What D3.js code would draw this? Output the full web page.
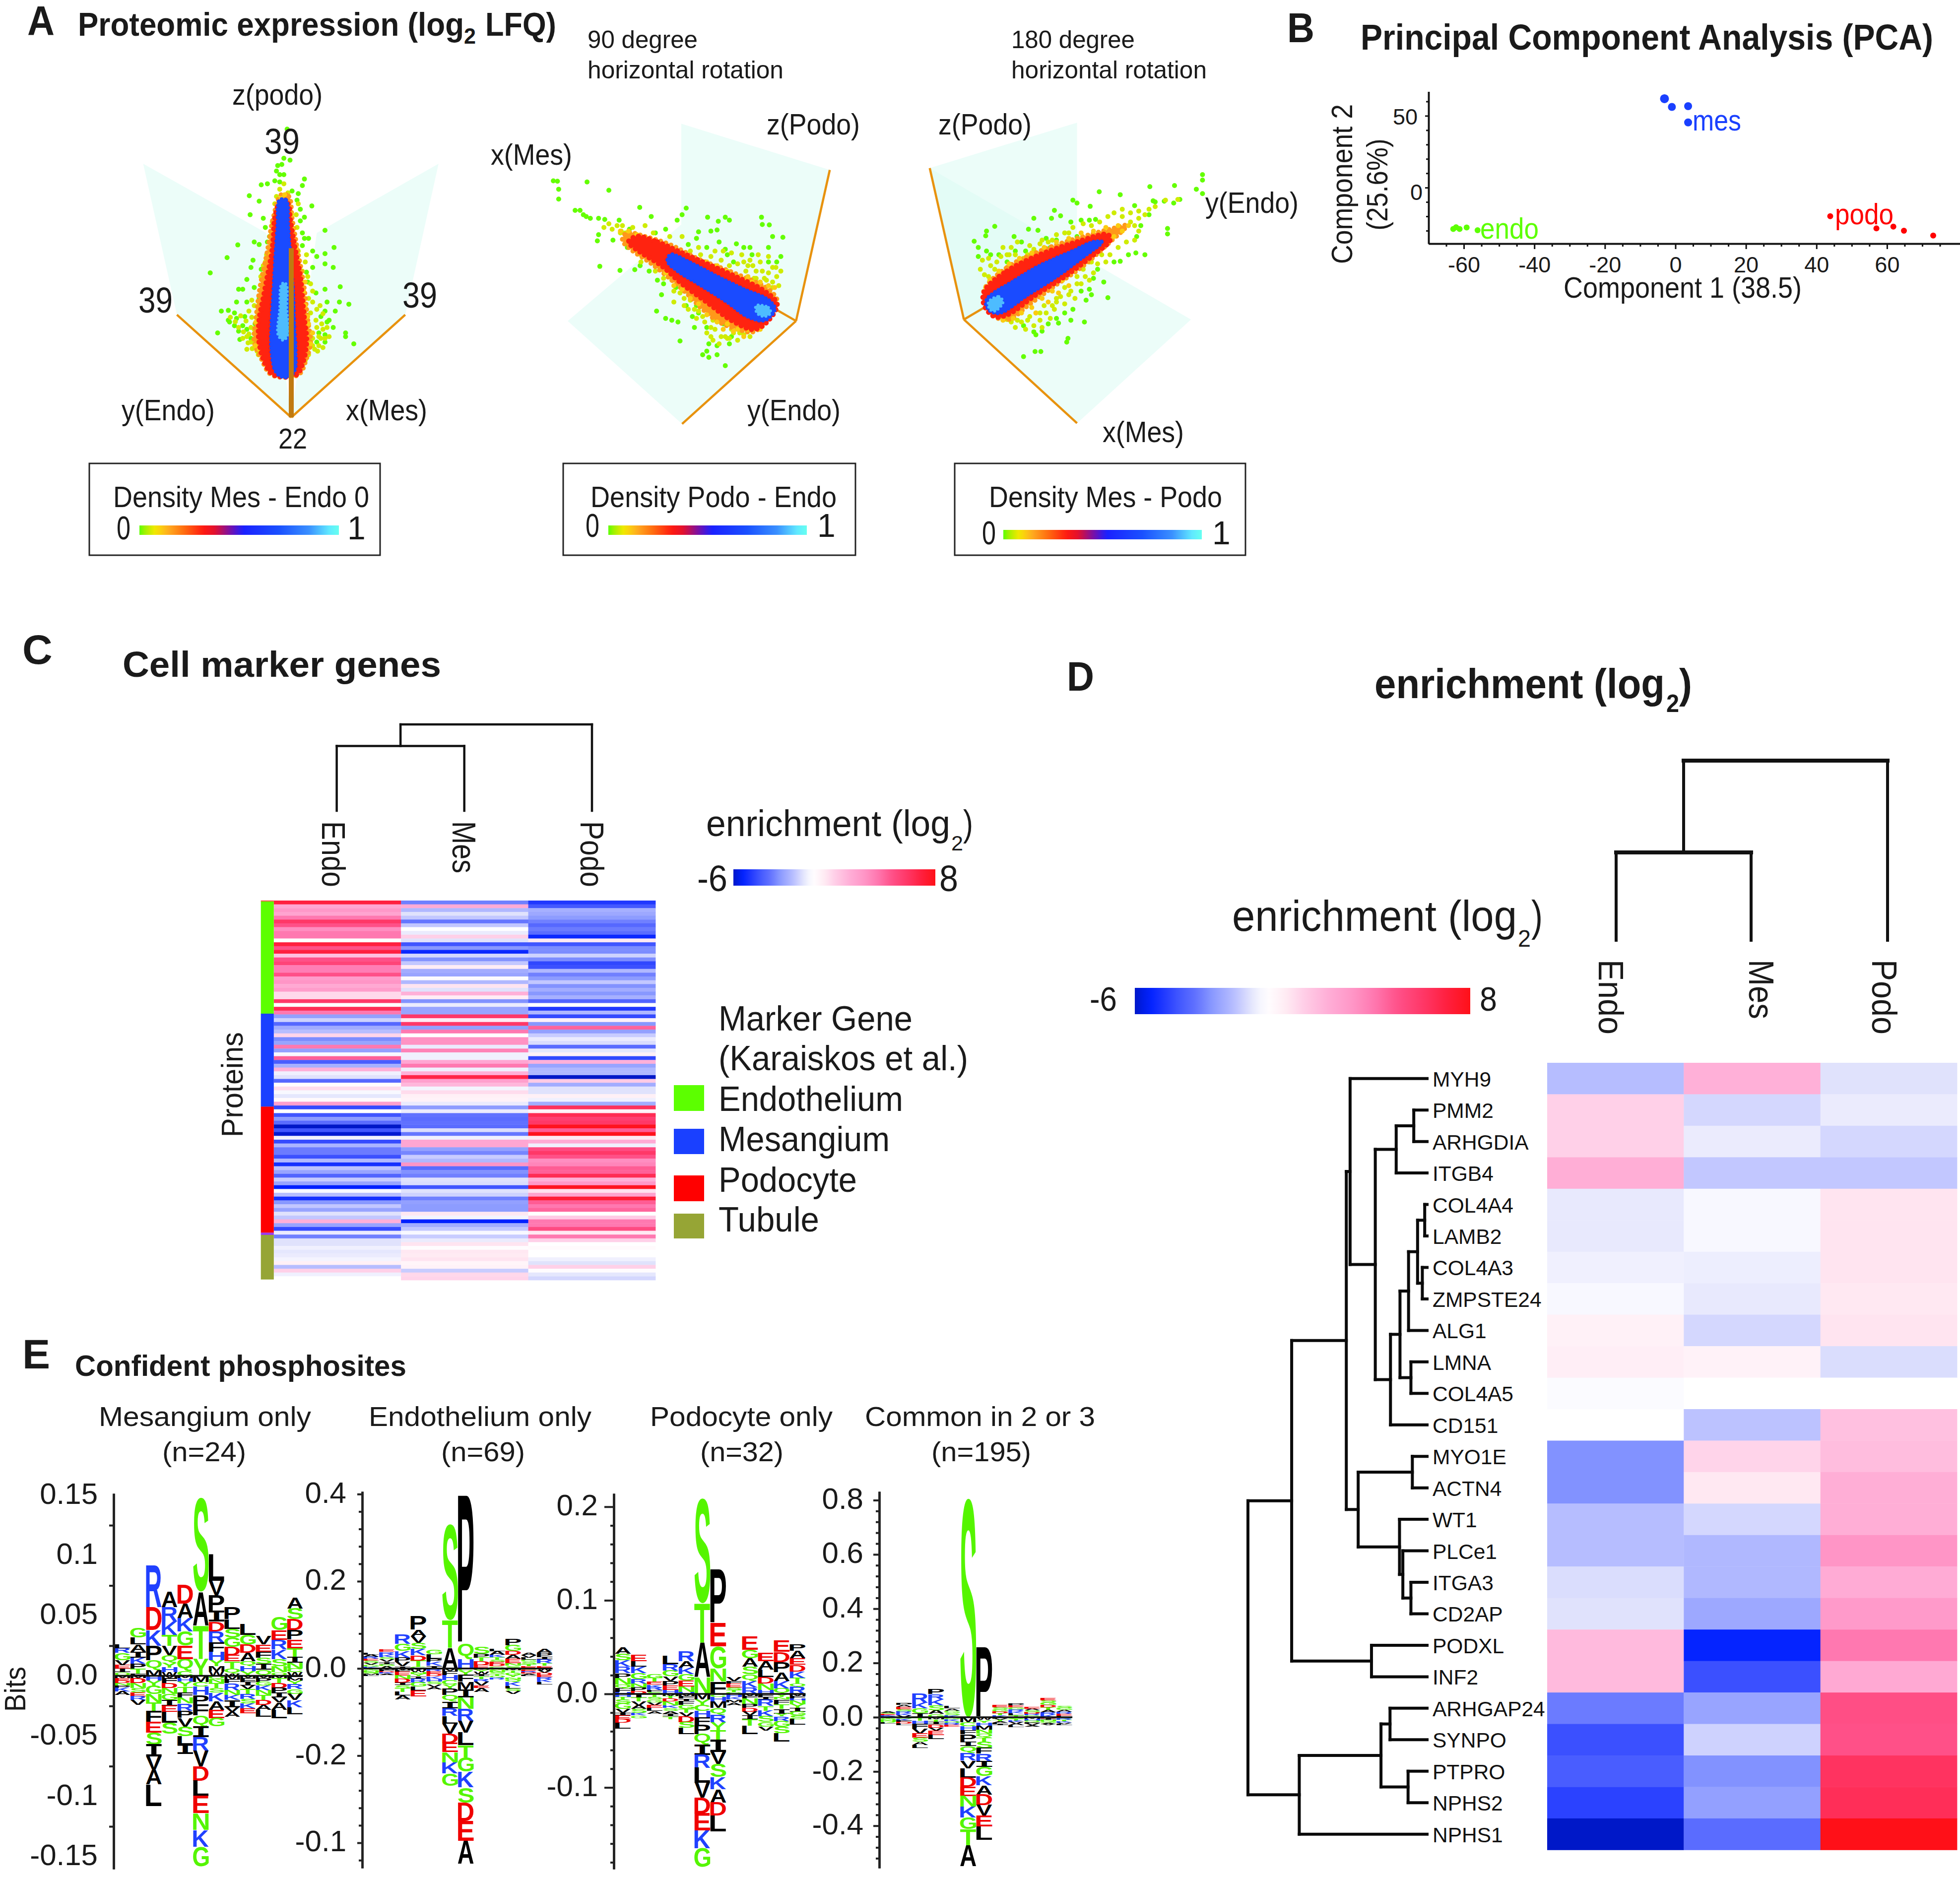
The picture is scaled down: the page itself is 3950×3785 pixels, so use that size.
<!DOCTYPE html>
<html><head><meta charset="utf-8">
<script src="https://cdnjs.cloudflare.com/ajax/libs/d3/7.8.5/d3.min.js"></script>
<style>html,body{margin:0;padding:0;background:#fff}svg{display:block}text{font-family:"Liberation Sans",Arial,sans-serif}</style>
</head><body><svg id="c" width="3950" height="3785" xmlns="http://www.w3.org/2000/svg"></svg>
<script>
// ---------- data ----------
const densityStops=[0,.03,.08,.14,.22,.32,.38,.46,.52,.7,.85,.95,1];
const densityColors=["#5cff00","#a8f000","#f6e800","#ffb020","#ff7010","#ff1a10","#e01030","#7010b0","#1a20ff","#1a50ff","#3a90ff","#60e8ff","#66fff0"];
const enrichStops=[-6,-5.4,-4.8,-4.2,-3.6,-3.2,-2.8,-2.5,-2,-1.6,-1.2,-.9,-.5,.4,1,2,3,4,5,6,7,8];
const enrichColors=["#0018c8","#0020ff","#2038ff","#4055ff","#5a6cff","#7080ff","#8898ff","#98a4ff","#b0b8ff","#c8ccff","#e0e2fc","#f0f0fe","#ffffff","#ffe8f2","#ffd0e8","#ffb0d8","#ff98c8","#ff78b0","#ff5088","#ff3868","#ff2040","#ff1018"];

// PCA (component 1, component 2)
const pcaMes=[[-3.1,61.9,8],[-1,56.2,7],[3.6,56.7,7],[3.6,45.4,7]];
const pcaPodo=[[43.9,-19.9,5],[57,-28.4,5],[61.8,-27.2,5],[64.8,-30,5],[73.1,-33.4,5]];
const pcaEndo=[[-63,-28.8,5],[-62.2,-27.6,5],[-61.2,-28.8,5],[-59.2,-27.8,5],[-56.1,-29.7,5]];
const pcaXMajor=[-60,-40,-20,0,20,40,60];
const pcaXMinor=[-65,-55,-50,-45,-35,-30,-25,-15,-10,-5,5,10,15,25,30,35,45,50,55,65,70,75];
const pcaYMinor=[60,40,30,20,10,-10,-20,-30];

// projected 3D clouds (projected screen units of each view)
const v1Low=[[698,355],[690,435],[705,440],[675,455],[685,452],[672,470],[680,480],[668,497],[680,500],[690,480],[740,492],[735,510],[725,532],[710,525],[650,505],[635,508],[606,538],[630,553],[700,550],[722,550],[758,566],[730,575],[608,590],[640,600],[645,625],[740,597],[730,607],[790,633],[735,640],[655,650],[650,665],[618,665],[630,672],[578,673],[740,655],[750,655],[735,675],[812,680],[760,690],[790,697],[770,705],[552,708],[615,715],[610,735],[635,740],[790,725],[810,735],[760,735],[745,748],[511,750],[600,768],[748,775],[580,795],[590,795],[618,790],[790,795],[768,805],[827,788],[575,830],[600,830],[630,820],[640,810],[795,830],[825,830],[848,836],[538,855],[555,853],[570,860],[790,855],[815,855],[555,880],[575,875],[595,870],[780,870],[800,880],[558,885],[570,895],[590,895],[620,890],[810,900],[795,885],[529,915],[580,910],[600,905],[775,915],[790,920],[840,915],[840,925],[583,933],[610,930],[770,940],[790,940],[860,945]];
const v1Mid=[[690,505],[680,520],[700,530],[620,920],[610,900],[775,950],[760,930],[770,900],[610,940],[625,950],[765,960],[755,860],[750,820],[625,870],[605,855],[760,800],[640,770],[735,745],[645,720],[725,690],[650,740],[785,905],[780,930],[600,925],[560,872],[572,884],[585,868],[598,882],[612,872],[580,900],[592,912],[605,918],[618,905],[590,930],[603,942],[617,938],[628,930],[600,960],[613,958],[625,965],[632,945],[618,840],[628,850],[612,825],[630,835],[640,790],[634,760],[640,730],[648,700],[655,680],[660,640],[662,610],[745,700],[742,720],[748,760],[755,780],[760,830],[770,850],[778,840],[785,862],[768,880],[782,890],[795,900],[775,925],[790,930],[800,925],[760,950],[772,965],[785,955],[750,975],[742,990],[640,985],[628,975],[650,1000],[735,1005],[725,560],[720,590],[722,625],[668,560],[672,540]];
const v1Warm=[[620,950],[630,960],[640,975],[650,990],[630,900],[622,885],[632,868],[640,850],[745,960],[755,945],[760,915],[750,890],[748,870],[742,840],[738,800],[742,775],[648,780],[645,810],[655,740],[658,700],[725,720],[720,680],[712,630],[665,640],[668,600],[708,590],[692,535],[684,545],[745,925],[635,925],[655,1010],[725,1015]];
const v2Low=[[-223,497],[-213,498],[-210,520],[-210,547],[-141,500],[-88,523],[-13,570],[-170,578],[-158,578],[-150,590],[-143,595],[-133,600],[-113,600],[-98,603],[-63,605],[-38,630],[-113,645],[-116,662],[-78,660],[-43,680],[-13,650],[-110,732],[-61,743],[-25,741],[-12,730],[100,572],[90,590],[78,605],[152,597],[195,597],[205,605],[178,608],[283,597],[285,617],[302,618],[310,650],[335,652],[15,595],[50,630],[25,640],[130,637],[160,635],[175,632],[125,655],[105,672],[195,685],[240,680],[255,680],[300,680],[222,670],[330,705],[320,720],[300,720],[260,700],[215,720],[200,700],[180,665],[150,680],[25,730],[10,745],[30,770],[45,780],[40,810],[75,790],[100,800],[28,855],[50,875],[65,880],[80,885],[115,870],[130,860],[120,900],[85,937],[175,950],[155,945],[205,945],[150,965],[140,975],[155,982],[175,975],[195,1005],[100,840],[150,900],[210,925],[125,840],[190,890]];
const v2Mid=[[250,730],[270,745],[300,750],[320,760],[285,790],[310,790],[170,860],[180,880],[210,905],[230,915],[160,900],[140,870],[120,850],[95,840],[70,830],[255,715],[235,700],[170,690],[130,680],[90,650],[60,650],[25,700],[-10,720],[200,930],[185,925],[160,925],[-88,615],[-68,620],[-58,635],[-48,640],[280,720],[310,735],[295,770],[265,765],[110,690],[135,700],[160,705],[185,715],[205,730],[225,725],[245,745],[262,730],[285,745],[300,705],[318,735],[330,745],[310,775],[325,785],[290,765],[270,765],[240,720],[190,690],[210,695],[275,700],[40,725],[25,745],[50,750],[65,770],[45,765],[70,800],[95,820],[85,805],[110,825],[105,850],[130,855],[145,885],[125,875],[165,880],[150,915],[170,905],[195,925],[180,945],[215,915],[165,935],[205,930],[225,935],[240,920],[255,925],[-30,680],[-10,700],[-60,640],[-80,630],[-100,625],[-55,620],[-30,625],[0,620],[10,670],[20,640]];
const v2Warm=[[240,770],[260,775],[280,775],[300,785],[315,790],[225,760],[250,760],[200,745],[175,730],[150,720],[130,835],[150,865],[175,885],[200,890],[225,905],[250,905],[110,820],[90,795],[70,785],[50,750],[30,720],[-15,690],[-35,665],[-60,635],[-40,635],[-20,645],[280,905],[240,925],[215,910],[190,905]];
const v3Low=[[1355,480],[1355,495],[1340,520],[1355,532],[1287,510],[1227,513],[1155,535],[1104,527],[1040,550],[1050,558],[1082,567],[1190,565],[1300,548],[1262,553],[1285,558],[1235,552],[1270,628],[1270,643],[995,578],[945,600],[988,600],[1010,593],[1035,610],[1060,605],[1080,605],[1095,603],[850,622],[830,635],[828,648],[800,663],[897,650],[932,630],[955,633],[975,655],[1000,660],[915,665],[900,690],[810,680],[830,690],[840,700],[810,705],[860,700],[880,720],[925,690],[985,680],[1015,670],[1050,650],[1215,700],[1175,700],[1193,695],[1155,718],[1140,720],[1100,740],[1090,765],[1115,775],[1080,795],[1085,810],[1125,818],[1060,800],[1072,825],[1040,850],[1020,860],[1000,875],[1005,888],[1068,885],[1035,880],[1028,930],[1025,940],[920,980],[948,966],[962,966],[965,910],[945,912],[950,920],[920,895],[980,890],[1195,650],[1205,620],[1225,590],[1240,555]];
const v3Mid=[[1180,610],[1190,620],[1160,595],[1200,600],[1215,590],[1145,640],[1110,700],[1080,720],[1050,760],[1020,790],[1000,820],[970,840],[950,860],[930,880],[905,880],[895,870],[1060,780],[1030,810],[990,840],[960,880],[880,700],[850,740],[835,760],[900,700],[930,700],[960,670],[990,660],[1030,640],[815,740],[825,755],[840,730],[855,720],[820,715],[835,710],[865,705],[885,700],[870,680],[890,680],[905,665],[920,710],[935,675],[945,685],[965,660],[980,665],[1000,645],[1020,640],[1040,625],[1065,615],[1085,620],[1105,610],[1125,595],[1140,585],[1160,575],[1180,585],[1200,580],[1225,575],[1240,568],[1265,550],[1295,548],[1200,635],[1190,660],[1170,665],[1150,680],[1130,700],[1120,720],[1100,725],[1090,750],[1070,760],[1050,780],[1080,770],[1035,800],[1010,815],[1045,820],[1020,835],[995,850],[1000,830],[975,860],[985,875],[960,860],[935,870],[915,885],[900,900],[925,905],[945,895],[965,900],[890,885],[880,878],[1065,740],[1085,720]];
const v3Warm=[[1090,690],[1065,720],[1040,745],[1015,770],[990,800],[965,820],[940,845],[915,860],[895,875],[870,880],[1120,660],[1140,650],[1160,635],[1175,620],[1150,620],[1120,625],[1090,635],[1060,640],[1030,655],[1000,665],[970,680],[940,695],[910,710],[885,725],[860,745],[838,770],[828,790],[1030,785],[1005,805],[980,830],[950,860]];
// density contours of each cloud
const v1Orange=[[684,535],[702,540],[710,600],[722,680],[738,780],[748,880],[755,940],[745,985],[725,1030],[660,1030],[635,985],[618,940],[622,880],[632,790],[650,690],[664,600]];
const v1Red=[[682,555],[700,560],[705,600],[712,650],[720,700],[730,760],[735,820],[740,880],[745,940],[735,1000],[720,1030],[665,1030],[645,1000],[630,940],[630,880],[640,820],[650,760],[660,700],[665,650],[668,600]];
const v1Blue=[[680,550],[695,550],[700,620],[705,700],[712,800],[715,900],[718,960],[715,1020],[700,1035],[685,1035],[670,1020],[660,960],[660,900],[665,800],[670,700],[675,620]];
const v1Core=[[685,780],[695,780],[697,850],[700,920],[688,935],[676,920],[680,850]];
const v2Orange=[[-45,640],[0,650],[60,672],[130,712],[220,752],[300,795],[322,830],[300,880],[262,912],[225,905],[180,885],[140,850],[100,805],[60,765],[10,720],[-35,685],[-55,660]];
const v2Red=[[-20,650],[30,665],[80,690],[150,725],[220,760],[290,800],[320,835],[300,880],[265,905],[210,880],[150,830],[90,780],[40,730],[-15,690],[-40,665]];
const v2Blue=[[62,700],[110,722],[170,757],[240,795],[300,825],[315,850],[290,880],[250,870],[200,830],[130,780],[80,745],[55,718]];
const v2Core=[[270,840],[300,845],[305,860],[290,870],[272,860]];
const v3Orange=[[825,795],[880,735],[960,690],[1050,655],[1130,630],[1170,620],[1130,665],[1060,735],[990,790],[930,840],[885,878],[850,870],[825,830]];
const v3Red=[[825,800],[880,745],[960,700],[1050,665],[1125,645],[1130,660],[1090,700],[1020,760],[950,810],[880,865],[850,870],[825,840]];
const v3Blue=[[830,825],[900,770],[960,730],[1040,690],[1090,665],[1110,665],[1060,710],[1000,760],[930,810],[860,860],[835,850]];
const v3Core=[[835,830],[860,815],[870,830],[850,855],[838,850]];
// pale coordinate planes and axes of each view, same units
const v1Planes=[[[348,450],[647,640],[708,1147],[430,865]],[[1066,450],[770,640],[708,1147],[985,865]]];
const v2Planes=[[[88,340],[449,467],[367,882],[88,617]],[[-188,882],[88,617],[367,882],[90,1165]]];
const v3Planes=[[[692,462],[1050,337],[1050,735],[775,878]],[[692,462],[1327,878],[1050,1163],[775,878]]];
const v2Axes=[[[367,882],[449,467]],[[367,882],[90,1165]],[[367,882],[310,845]]];
const v3Axes=[[[775,878],[692,462]],[[775,878],[1050,1163]],[[775,878],[835,838]]];
const v1Axes=[[[708,1147],[430,865]],[[708,1147],[985,865]]];
const v1ZAxis=[[708,1147],[708,682]];

// Cell marker heat map
const cellCols=["Endo","Mes","Podo"];
const markerEndo=[7,2.4,3,2.5,4,6,5,3.3,4,4,-.5,7,5,7,1.5,5,5.5,3.8,3.8,5,2.8,3.1,2.3,2.8,.8,.8,6,-.5,6.5,4,-2.6,-1.5,-3.7,-2.3,-1.9,.9,-3,-2.5,4,-2.6,-.7,4.6,-4,-2.2,2,-.9,-1.2,-3.7,-.4,.7,-.7,-1.1,-.3,2.7,-4.4,-.5,-4.2,-2.7,-3.6,-6,-4.2,-5.9,-.9,-4.4,-2.1,-3.3,-3.3,-4.3,-2,-5,-1.8,-2.5,-3.8,-1.6,-2.5,-5.4,-.7,-1.9,-5,-2.8,-1.7,-2.5,-1.2,-1.7,2,-2.5,-4.4,-1,-3.2,-1.2,-1.2,-.9,-1.1,-1,-.8,.1,-1.9,1,-.9,-.5];
const markerMes=[-3.2,2.2,-2,-1.2,-1.7,-3.4,-1.7,-.5,-1,1,-1.2,-4.2,-2.8,-5.2,-1.4,-2.9,-1.7,.2,-2.3,-2.5,-.6,-2,.5,-1.2,2,.2,-2.9,-1,-2.5,-2.5,6,.3,6,-2.6,4,-.5,3.2,3.2,-1,3.7,-.9,-.9,2.4,4,-.9,2,6.8,2.7,1.8,-.8,.7,.1,0,-1,-2.7,-1,-3.5,-3.6,-3.5,-3.6,-1.3,-3.4,-.9,2.4,2.4,-2.6,-3.1,-1.6,-2,3.1,-3.6,-2.9,-3.2,-1.2,-1.3,-4.2,-1.2,-1.5,-3.2,-2.6,-2.7,-2.7,.4,-.8,-5.4,-2.3,-1.7,-.7,-1.6,-1,.5,-.4,.4,.3,.5,-.1,0,-1.6,.8,.9];
const markerPodo=[-4.8,-4.1,-2.2,-2.4,-2.7,-3.2,-3.7,-3.3,-3.6,-5.2,.4,-4.2,-3,-3,-1.5,-3,-4.5,-4.3,-2,-3.2,-2.7,-1.7,-2.9,-2.3,-2.8,-2.2,-3.8,-.5,-4.8,-2,-4.4,0,-2.8,4.5,-2.6,-1.6,-1,-1.3,-3.6,-1.1,.1,-4.5,2,-2.5,-2,-2,-6,1.2,-2.3,-1.2,-1.2,.1,-.9,-2.3,6.3,0,6.5,5.7,6,7.8,4.7,7.9,.4,2.2,-.9,5.2,6,5,3.3,3.6,4.7,4.6,6.5,2,3,7.8,.6,2.6,7.2,4.7,4,4.5,-.5,1.2,4,4,5.2,.4,4,1,-.5,-.3,-.5,-.5,-.9,-1.2,1,-.4,-1.1,-1.4];
const markerNames=["Endothelium","Mesangium","Podocyte","Tubule"];
const markerFill=["#5cff00","#1a40ff","#ff0000","#96a535"];
const markerCounts=[29.6,24.5,33.2,.6,11.7]; // rows per side-bar block
const sliverFill="#9a3af0";

// Podocyte gene heat map
const genes=["MYH9","PMM2","ARHGDIA","ITGB4","COL4A4","LAMB2","COL4A3","ZMPSTE24","ALG1","LMNA","COL4A5","CD151","MYO1E","ACTN4","WT1","PLCe1","ITGA3","CD2AP","PODXL","INF2","ARHGAP24","SYNPO","PTPRO","NPHS2","NPHS1"];
const geneEndo=[-1.9,1,1,2.1,-1.05,-1.05,-.9,-.7,.05,.15,-.6,-.5,-2.9,-2.9,-1.9,-1.9,-1.3,-1.2,1.7,1.7,-3.3,-4.3,-4,-4.6,-6];
const geneMes=[2,-1.4,-1,-1.7,-.7,-.7,-.95,-1.05,-1.4,0,-.5,-1.8,.9,.4,-1.4,-2,-2,-2.4,-5.3,-4.3,-2.5,-1.5,-2.9,-2.6,-3.6];
const genePodo=[-1.2,-1,-1.4,-1.7,.5,.5,.5,.4,.5,-1.3,-.5,1.5,1.6,2.1,2.1,3.1,2.2,2.9,4,2.3,5.1,5,6.2,6.4,8];
// gene tree: [linkage distance, child, child]
const geneTree=[377,
 [285,
  [170,
   [162,"MYH9",
    [109,
     [65,[28,"PMM2","ARHGDIA"],"ITGB4"],
     [77,
      [57,
       [39,
        [20,[5,"COL4A4","LAMB2"],[10,"COL4A3","ZMPSTE24"]],
        "ALG1"],
       [34,"LMNA","COL4A5"]],
      "CD151"]]],
   [145,[31,"MYO1E","ACTN4"],[58,"WT1",[51,"PLCe1",[34,"ITGA3","CD2AP"]]]]],
  [117,"PODXL","INF2"]],
 [269,[97,[78,"ARHGAP24","SYNPO"],[40,"PTPRO","NPHS2"]],"NPHS1"]];

// sequence logos: letter stacks read top to bottom, heights in 0.001 bits
const logo1Up=["L3 R4 G6 V4 E3 I3 Q3","G8 L6 A6 I5 K5 P4 T4 F2","R35 D19 K13 P12 Q8 M5","A13 R12 K11 T9 V8 Q6 Y4 H4 W3","D16 A12 K11 G12 E11 Q10 C4","S78 A28 T28 Y14","L22 V12 P13 I9 D8 R9 F8 H7 Y5 M4 W4","P10 L8 S7 G8 D7 E5 T6 Q4 W2","L9 G8 D7 A7 Q4 H4 Y4","V7 E6 F5 S5 I5 Q5","G11 E8 R8 K8 S6 N5 Q3","A9 S9 D9 P8 E7 T7 I5 N5 C3 W3"];
const logo1Down=["M2 E2 D2 N2 P2 K3 A3","M2 D4 N4 S4 E3 R3 V4","H4 Y4 G7 N7 T7 F9 E9 S10 I10 V11 A12 L18","M2 F4 D4 N5 G5 I5 E5 L9 S9","M2 H3 Y4 T5 F4 N5 R6 P6 V7 S8 L7 I8","M5 C4 H7 P8 F9 Q9 I9 R11 V13 D12 L13 E14 N14 K14 G16","Q3 N3 T4 S4 K7 A7 E7 G7","M3 F3 R6 N4 K4 I6 V4 A4","M2 F3 I3 V3 T4 R4 S4 K4 E4","M2 P3 G3 K4 N4 T4 D4 A4 L6","M2 T4 D4 P4 I4 V4 A6 L7","F2 M2 Y3 R4 G4 V5 K6 L6"];
const logo2Up=["L4 A5 R5 E4 S5 V4 G5 K4","E6 R6 K6 S5 V6 I5 G5 A5","R21 G17 K15 P10 V10 I5","P31 A15 V15 S14 K15 D12 T14 C4","G10 L10 P7 K9 I6","S220 T64 A47","P340 Q35 H22","S17 P9 T8 D9 E8","L6 A8 K6 T6 S5 E5 D5 G5","P15 G13 D9 A9 E10 N6 S6","A5 V5 L5 G5 S5 T5 E5","A9 P9 I6 R9 T6 E6"];
const logo2Down=["T3 G3 N3 S3 M3 L3","M3 F3 D3 K3 A3","M4 F4 E8 N8 D8 I6 S8 T8 L8 A9","M4 W4 N5 Y5 I5 R9 G10 L9 E13","R6 E6 D6 K6 H6 S6 V6 A6","M6 F9 H12 C10 Y9 P15 Q15 I15 R18 L18 V23 D21 E21 N24 K25 G28","C5 Y9 F16 M18 I18 N27 R27 V27 L29 T28 G33 K36 S35 D42 E45 A53","M3 Y5 W5 I5 T6 R6 V9 E6 A9","G4 N4 S4 T5 Q4 R4","M4 T5 G6 Y5 N5 Q6 K9 L6 S6 V7","G3 E3 R3 D3 A3 L3","W5 V5 D5 E5 R5 K6 L6"];
const logo3Up=["A7 S7 K7 R7 P5 N7 Q4 F4 H2","E7 L6 K7 G6 R5 N4 P4 D3","G4 T4 E3 K3 R3 F2 S2","L9 R7 G6 V5 P5 E5 H4","R11 A7 K7 G7 E6 N6 H2","S112 T42 A37 N18","P57 E25 G24 N14 F13","V4 F3 E4 S3 T2 G2","E14 G9 A9 S8 Q7 K7 R7","E9 A9 L8 D7 N7 H4","E12 D11 P11 A9 K8 Q6","P7 A8 E7 D7 K7 T6 Q3 R8"];
const logo3Down=["H3 T3 S4 G6 V4 I3 E4 D4 L6","I4 T4 V4 A4 S4 K3 G3","T3 S3 G3 V3 E3 L3 A3","M2 T3 D3 N4 K3 S3 A3 I3 T3","M2 F3 I3 F4 G4 T4 V4 D6 S6 L7","M6 Y6 C6 H7 F8 P10 Q11 I11 R14 L16 V16 D17 E18 K19 G20","C3 H5 M7 Q7 R8 Y9 T10 I13 V13 S14 K13 A14 D14 L17","H3 K3 M3 A3","M2 F3 N6 P4 D4 V4 I4 T7 L9","F3 I3 R7 T5 K6 S6 G5 V4","Y3 N3 F5 T5 I5 Y3 R5 G6 S7 L9","M2 F3 H2 N4 Y4 I4 G4 S4 L6"];
const logo4Up=["A4 S4 E4 K4 R4","P8 A8 E8 S8 R8 K7 V7","R36 K20 G19 I14","P19 R19 K22 S19 A13 G12","L8 A8 G8 S8 K8","S807","P260","E8 S8 G7 D7 T7 K8","P7 E7 G7 R7 K7 L7 T8","E6 A6 S6 D6 R6 G7","E10 S9 G9 D9 T9 A9 R9 K9","S7 G7 A7 R7 E7 L6"];
const logo4Down=["T5 G5 N5 Q5 L4","S6 K6 F6 D6 L6","T12 H12 F18 V18 E15 S15 A12 L12","M8 T8 I10 D12 V12 E15 L15","G7 K7 Q7 R7 E7","M18 C15 H15 F15 P27 I17 Q24 R29 V29 L34 D34 E34 N39 K39 G44 T58 A78","W10 Y10 H12 M14 N14 Q15 T15 S24 F20 R29 I20 G34 K34 A34 D39 V39 E39 L50","F5 V5 T5 A5 L5 I5","C6 T6 K6 V6 A6 L6","M6 H6 Q6 F5 V6 A5","D5 I5 N5 G5 A5 V5","Q5 R5 T5 K5 V5 L5"];
const logo1Major=[.15,.1,.05,0,-.05,-.1,-.15], logo1Labels=["0.15","0.1","0.05","0.0","-0.05","-0.1","-0.15"], logo1Minor=[.125,.075,.025,-.025,-.075,-.125];
const logo2Major=[.4,.2,0,-.2,-.4], logo2Labels=["0.4","0.2","0.0","-0.2","-0.1"], logo2Minor=[.36,.32,.28,.24,.16,.12,.08,.04,-.04,-.08,-.12,-.16,-.24,-.28,-.32,-.36,-.44];
const logo3Major=[.2,.1,0,-.1], logo3Labels=["0.2","0.1","0.0","-0.1"], logo3Minor=[.18,.16,.14,.12,.08,.06,.04,.02,-.02,-.04,-.06,-.08,-.12,-.14,-.16,-.18];
const logo4Major=[.8,.6,.4,.2,0,-.2,-.4], logo4Labels=["0.8","0.6","0.4","0.2","0.0","-0.2","-0.4"], logo4Minor=[.76,.72,.68,.64,.56,.52,.48,.44,.36,.32,.28,.24,.16,.12,.08,.04,-.04,-.08,-.12,-.16,-.24,-.28,-.32,-.36,-.44,-.48,-.52];

// ---------- drawing ----------
const svg=d3.select("#c"), defs=svg.append("defs");
const INK="#1a1a1a";
function T(x,y,s,size,w,o={}){
  const t=svg.append("text").attr("x",x).attr("y",y).text(s).attr("font-size",size).attr("fill",o.fill||INK);
  if(o.bold)t.attr("font-weight","bold");
  if(o.anchor)t.attr("text-anchor",o.anchor);
  if(w)t.attr("textLength",w).attr("lengthAdjust","spacingAndGlyphs");
  if(o.rot)t.attr("transform",`rotate(${o.rot},${x},${y})`);
  return t;
}
const densityColor=d3.scaleLinear().domain(densityStops).range(densityColors);
const enrich=d3.scaleLinear().domain(enrichStops).range(enrichColors).clamp(true);
function gradBar(id,col,domain,x0,x1,y0,y1){
  const g=defs.append("linearGradient").attr("id",id);
  d3.range(0,41).forEach(i=>{const f=i/40;g.append("stop").attr("offset",f).attr("stop-color",col(domain[0]+f*(domain[1]-domain[0])));});
  svg.append("rect").attr("x",x0).attr("y",y0).attr("width",x1-x0).attr("height",y1-y0).attr("fill",`url(#${id})`);
}

// ----- panel A -----
T(55,71,"A",84,55,{bold:1});
T(157,72,"Proteomic expression (log",66,778,{bold:1});
T(935,88,"2",44,24,{bold:1});
T(978,72,"LFQ)",66,143,{bold:1});
T(1184,97,"90 degree",50,222);T(1184,158,"horizontal rotation",50,395);
T(2038,97,"180 degree",50,249);T(2038,158,"horizontal rotation",50,394);

const blobLine=d3.line().curve(d3.curveCatmullRomClosed.alpha(.5));
function drawView(off,planes,axes,low,mid,warm,orange,red,blue,core){
  const sx=d3.scaleLinear().domain([0,1568]).range([off,off+1300]);
  const sy=d3.scaleLinear().domain([0,1568]).range([0,1150]);
  const g=svg.append("g");
  const P=p=>[sx(p[0]),sy(p[1])];
  planes.forEach(pl=>g.append("path").attr("d","M"+pl.map(P).join("L")+"Z").attr("fill","#dcfbf4").attr("fill-opacity",.55));
  axes.forEach(a=>g.append("path").attr("d","M"+a.map(P).join("L")).attr("stroke","#e8920e").attr("stroke-width",4.5).attr("fill","none"));
  const dots=(pts,d)=>g.append("g").selectAll("circle").data(pts).join("circle").attr("cx",p=>sx(p[0])).attr("cy",p=>sy(p[1])).attr("r",5).attr("fill",densityColor(d));
  dots(low,.003);
  dots(mid,.055);
  const blob=(poly,d,r,dash,ed)=>g.append("path").attr("d",blobLine(poly.map(P))).attr("fill",densityColor(d)).attr("stroke",densityColor(ed===undefined?d:ed)).attr("stroke-width",r).attr("stroke-linecap","round").attr("stroke-dasharray",dash);
  blob(orange,.17,10,"0 11");
  dots(warm,.11);
  blob(red,.31,11,"0 11");
  blob(blue,.68,9,"0 16",.44);
  blob(blue,.68,8,"0 8");
  blob(core,.9,6,"0 8");
  return {g,P};
}
const view1=drawView(0,v1Planes,v1Axes,v1Low,v1Mid,v1Warm,v1Orange,v1Red,v1Blue,v1Core);
view1.g.append("path").attr("d","M"+v1ZAxis.map(view1.P).join("L")).attr("stroke","#c07a10").attr("stroke-width",10).attr("fill","none");
drawView(1300,v2Planes,v2Axes,v2Low,v2Mid,v2Warm,v2Orange,v2Red,v2Blue,v2Core);
drawView(1300,v3Planes,v3Axes,v3Low,v3Mid,v3Warm,v3Orange,v3Red,v3Blue,v3Core);

T(468,211,"z(podo)",60,182);
T(533,310,"39",72,71);T(279,630,"39",72,69);T(811,620,"39",72,70);
T(245,847,"y(Endo)",60,188);T(697,847,"x(Mes)",60,164);T(561,904,"22",58,58);
T(989,332,"x(Mes)",60,164);T(1545,271,"z(Podo)",60,188);T(1506,847,"y(Endo)",60,188);
T(1891,271,"z(Podo)",60,188);T(2429,429,"y(Endo)",60,188);T(2222,891,"x(Mes)",60,164);

function densityBox(bx0,bx1,title,tx,tw,tbase,z,zb,one,oneb,barx0,barx1,bary0,id){
  svg.append("rect").attr("x",bx0).attr("y",934).attr("width",bx1-bx0).attr("height",185).attr("fill","none").attr("stroke","#222").attr("stroke-width",3);
  T(tx,tbase,title,60,tw);
  T(z,zb,"0",66,28);T(one,oneb,"1",66,null);
  gradBar(id,densityColor,[0,1],barx0,barx1,bary0,bary0+19);
}
densityBox(180,766,"Density Mes - Endo 0",228,516,1022,235,1087,700,1087,281,683,1059,"db1");
densityBox(1135,1724,"Density Podo - Endo",1190,496,1022,1180,1082,1647,1082,1226,1626,1059,"db2");
densityBox(1924,2510,"Density Mes - Podo",1993,470,1022,1979,1097,2443,1097,2022,2422,1068,"db3");

// ----- panel B -----
T(2594,85,"B",84,55,{bold:1});
T(2742,100,"Principal Component Analysis (PCA)",72,1154,{bold:1});
const pcaX=d3.scaleLinear().domain([-70,80.7]).range([2879,3950]);
const pcaY=d3.scaleLinear().domain([-39,66.9]).range([491,184.5]);
const styleAxis=g=>{g.selectAll("path.domain").attr("stroke","#111").attr("stroke-width",3.5);g.selectAll("line").attr("stroke","#111").attr("stroke-width",3);g.selectAll("text").attr("font-family",'"Liberation Sans"').attr("fill",INK);};
svg.append("g").attr("transform","translate(0,491)").call(d3.axisBottom(pcaX).tickValues(pcaXMinor).tickSize(6).tickFormat("").tickSizeOuter(0)).call(styleAxis);
svg.append("g").attr("transform","translate(0,491)").call(d3.axisBottom(pcaX).tickValues(pcaXMajor).tickSize(11).tickPadding(15).tickSizeOuter(0).tickFormat(d=>String(d))).call(styleAxis).selectAll("text").attr("font-size",45);
const pcaYAxis=svg.append("g").attr("transform","translate(2879,0)").call(d3.axisLeft(pcaY).tickValues([50,0]).tickSize(7).tickPadding(15).tickSizeOuter(0).tickFormat(d=>String(d))).call(styleAxis);
pcaYAxis.selectAll("text").attr("font-size",45).attr("dy",d=>d===50?".38em":".55em").attr("x",d=>d===50?-22:-12);
svg.append("g").attr("transform","translate(2879,0)").call(d3.axisLeft(pcaY).tickValues(pcaYMinor).tickSize(5).tickFormat("").tickSizeOuter(0)).call(styleAxis);
[[pcaMes,"#1a40ff"],[pcaPodo,"#ff0000"],[pcaEndo,"#5cff00"]].forEach(([d,c])=>svg.append("g").selectAll("circle").data(d).join("circle").attr("cx",p=>pcaX(p[0])).attr("cy",p=>pcaY(p[1])).attr("r",p=>p[2]+1).attr("fill",c));
T(3411,263,"mes",60,98,{fill:"#1a40ff"});
T(3698,452,"podo",60,118,{fill:"#ff0000"});
T(2983,481,"endo",60,118,{fill:"#5cff00"});
T(3151,600,"Component 1 (38.5)",60,480);
T(2725,371,"Component 2",60,322,{rot:-90,anchor:"middle"});
T(2796,372,"(25.6%)",60,185,{rot:-90,anchor:"middle"});

// ----- shared dendrogram -----
function treeLayout(node,pos){
  if(typeof node==="string")return {h:0,p:pos(node),kids:[]};
  const kids=node.slice(1).map(n=>treeLayout(n,pos));
  return {h:node[0],p:d3.mean(kids,k=>k.p),kids};
}
function treePaths(n,out=[]){
  if(!n.kids.length)return out;
  n.kids.forEach(k=>{out.push([k.h,k.p,n.h,k.p]);treePaths(k,out);});
  out.push([n.h,n.kids[0].p,n.h,n.kids[n.kids.length-1].p]);
  return out;
}

// ----- panel C -----
T(45,1338,"C",84,null,{bold:1});
T(247,1364,"Cell marker genes",72,642,{bold:1});
const colC=d3.scaleBand().domain(cellCols).range([551.8,1321]);
const rowC=d3.scaleBand().domain(d3.range(markerEndo.length)).range([1815,2580]);
[markerEndo,markerMes,markerPodo].forEach((vals,ci)=>svg.append("g").selectAll("rect").data(vals).join("rect")
  .attr("x",colC(cellCols[ci])).attr("width",colC.bandwidth()+.4).attr("y",(d,i)=>rowC(i)).attr("height",rowC.bandwidth()+.4).attr("fill",d=>enrich(d)));
{ // annotation side bar
  let y=1816.5; const fills=[markerFill[0],markerFill[1],markerFill[2],sliverFill,markerFill[3]];
  markerCounts.forEach((n,i)=>{const h=n*rowC.bandwidth();svg.append("rect").attr("x",525.7).attr("y",y).attr("width",26.1).attr("height",h+.3).attr("fill",fills[i]);y+=h;});
  svg.append("rect").attr("x",525.7).attr("y",1815).attr("width",26.1).attr("height",1.5).attr("fill","#ff2020");
}
const cTop=d3.scaleLinear().domain([0,1]).range([1634,1460]);
const cHeights=[.75,1];
const drawTop=(sc,xs,hs,w1,w2)=>{
  const t=treeLayout([hs[1],[hs[0],cellCols[0],cellCols[1]],cellCols[2]],n=>xs[cellCols.indexOf(n)]);
  svg.append("g").selectAll("line").data(treePaths(t)).join("line").attr("x1",d=>d[1]).attr("x2",d=>d[3]).attr("y1",d=>sc(d[0])).attr("y2",d=>sc(d[2])).attr("stroke","#111").attr("stroke-linecap","square").attr("stroke-width",d=>d[0]===d[2]?w2:w1);
};
drawTop(cTop,[678.6,935.7,1193],cHeights,4.5,4.5);
T(649,1655,"Endo",66,133,{rot:90});T(912,1655,"Mes",66,105,{rot:90});T(1170,1655,"Podo",66,133,{rot:90});
T(1423,1685,"enrichment (log",74,492);T(1917,1714,"2",42,24);T(1941,1685,")",74,20);
T(1405,1796,"-6",74,61);T(1893,1796,"8",74,38);
gradBar("cb1",enrich,[-6,8],1478,1885,1752,1785);
T(489,2292,"Proteins",62,212,{rot:-90});
T(1448,2077,"Marker Gene",70,391);T(1448,2157,"(Karaiskos et al.)",70,503);
const legW=[372,345,279,203], legBase=[2239,2320,2402,2482], legTop=[2187,2275,2369,2446], legBot=[2239,2326,2421,2496];
markerNames.forEach((n,i)=>{
  svg.append("rect").attr("x",1358).attr("y",legTop[i]).attr("width",61).attr("height",legBot[i]-legTop[i]).attr("fill",markerFill[i]);
  T(1448,legBase[i],n,70,legW[i]);
});

// ----- panel D -----
T(2150,1392,"D",84,55,{bold:1});
T(2770,1407,"enrichment (log",84,585,{bold:1});T(3358,1435,"2",50,26,{bold:1});T(3384,1407,")",84,26,{bold:1});
const dTop=d3.scaleLinear().domain([0,1]).range([1895,1533]);
drawTop(dTop,[3257,3529,3804],[.489,1],6,8);
T(2483,1876,"enrichment (log",88,574);T(3059,1908,"2",48,26);T(3086,1876,")",88,23);
T(2196,2037,"-6",68,55);T(2982,2037,"8",68,35);
gradBar("cb2",enrich,[-6,8],2287,2963,1991,2044);
T(3222,1934,"Endo",70,151,{rot:90});T(3525,1934,"Mes",70,120,{rot:90});T(3773,1934,"Podo",70,151,{rot:90});
const colD=d3.scaleBand().domain(cellCols).range([3118,3944]);
const rowD=d3.scaleBand().domain(genes).range([2142,3728.4]);
[geneEndo,geneMes,genePodo].forEach((vals,ci)=>svg.append("g").selectAll("rect").data(vals).join("rect")
  .attr("x",colD(cellCols[ci])).attr("width",colD.bandwidth()+.4).attr("y",(d,i)=>rowD(genes[i])).attr("height",rowD.bandwidth()+.4).attr("fill",d=>enrich(d)));
svg.append("g").selectAll("text").data(genes).join("text").text(d=>d).attr("x",2887).attr("y",d=>rowD(d)+rowD.bandwidth()/2+16).attr("font-size",42.5).attr("fill","#111");
const treeX=d3.scaleLinear().domain([0,377]).range([2876,2515]);
const tree=treeLayout(geneTree,n=>rowD(n)+rowD.bandwidth()/2);
svg.append("g").selectAll("line").data(treePaths(tree)).join("line").attr("x1",d=>treeX(d[0])).attr("x2",d=>treeX(d[2])).attr("y1",d=>d[1]).attr("y2",d=>d[3]).attr("stroke","#0a0a0a").attr("stroke-linecap","square").attr("stroke-width",6);

// ----- panel E -----
T(45,2758,"E",84,null,{bold:1});
T(151,2773,"Confident phosphosites",60,668,{bold:1});
T(199,2874,"Mesangium only",56,428);T(327,2945,"(n=24)",56,169);
T(743,2874,"Endothelium only",56,449);T(889,2945,"(n=69)",56,169);
T(1310,2874,"Podocyte only",56,368);T(1411,2945,"(n=32)",56,168);
T(1743,2874,"Common in 2 or 3",56,464);T(1877,2945,"(n=195)",56,201);
T(51,3450,"Bits",60,91,{rot:-90});

const letterFill=ch=>"GSTYCNQ".includes(ch)?"#55f500":"KRH".includes(ch)?"#2040ff":"DE".includes(ch)?"#f00000":"#000";
const letterFont=ch=>ch==="I"?'"DejaVu Sans Mono"':'"Liberation Sans"';
const cv=document.createElement("canvas").getContext("2d");
function logo(o){
  const g=svg.append("g");
  const y=d3.scaleLinear().domain(o.dom).range([o.y1,o.y0]);
  const x=d3.scaleBand().domain(d3.range(o.up.length)).range([o.x0,o.x0+12*o.w]);
  const place=(ch,cx,yTop,yBot)=>{
    cv.font=`bold 100px ${letterFont(ch)}`;
    const m=cv.measureText(ch), l=-m.actualBoundingBoxLeft, r=m.actualBoundingBoxRight, a=m.actualBoundingBoxAscent, de=m.actualBoundingBoxDescent;
    const sx=o.w/(r-l), sy=(yBot-yTop)/(a+de);
    g.append("text").text(ch).attr("font-size",100).attr("font-weight","bold").style("font-family",letterFont(ch)).attr("fill",letterFill(ch))
     .attr("transform",`translate(${cx},${yBot}) scale(${sx},${sy}) translate(${-l},${-de})`);
  };
  const parse=s=>s.split(" ").map(t=>[t[0],+t.slice(1)/1000]);
  o.up.forEach((s,i)=>{let v=0;parse(s).reverse().forEach(([c,h])=>{place(c,x(i),y(v+h),y(v));v+=h;});});
  o.down.forEach((s,i)=>{let v=0;parse(s).forEach(([c,h])=>{place(c,x(i),y(v),y(v-h));v-=h;});});
  g.append("line").attr("x1",o.ax).attr("x2",o.x0+12*o.w).attr("y1",y(0)).attr("y2",y(0)).attr("stroke","#111").attr("stroke-width",3.5);
  const minor=d3.axisLeft(y).tickValues(o.minor).tickSize(o.minorSize).tickFormat("").tickSizeOuter(0);
  const major=d3.axisLeft(y).tickValues(o.major).tickSize(o.majorSize).tickPadding(32-o.majorSize).tickSizeOuter(0).tickFormat((d,i)=>o.labels[i]);
  const sa=s=>{s.selectAll("path.domain").attr("stroke","#222").attr("stroke-width",4.5);s.selectAll("line").attr("stroke","#222").attr("stroke-width",4);};
  g.append("g").attr("transform",`translate(${o.ax},0)`).call(minor).call(sa);
  g.append("g").attr("transform",`translate(${o.ax},0)`).call(major).call(sa).selectAll("text").attr("font-size",60).attr("font-family",'"Liberation Sans"').attr("fill",INK).attr("dy",".28em");
}
logo({up:logo1Up,down:logo1Down,x0:231,w:31.6,ax:229,y0:3010,y1:3767,dom:[-.1604,.1514],major:logo1Major,labels:logo1Labels,minor:logo1Minor,minorSize:9,majorSize:0});
logo({up:logo2Up,down:logo2Down,x0:732,w:31.8,ax:730,y0:3006,y1:3765,dom:[-.458,.406],major:logo2Major,labels:logo2Labels,minor:logo2Minor,minorSize:7,majorSize:10});
logo({up:logo3Up,down:logo3Down,x0:1239.4,w:32,ax:1237,y0:3010,y1:3767,dom:[-.1872,.2142],major:logo3Major,labels:logo3Labels,minor:logo3Minor,minorSize:7,majorSize:19});
logo({up:logo4Up,down:logo4Down,x0:1773.5,w:32.3,ax:1772,y0:3006,y1:3765,dom:[-.556,.832],major:logo4Major,labels:logo4Labels,minor:logo4Minor,minorSize:7,majorSize:12});
</script></body></html>
